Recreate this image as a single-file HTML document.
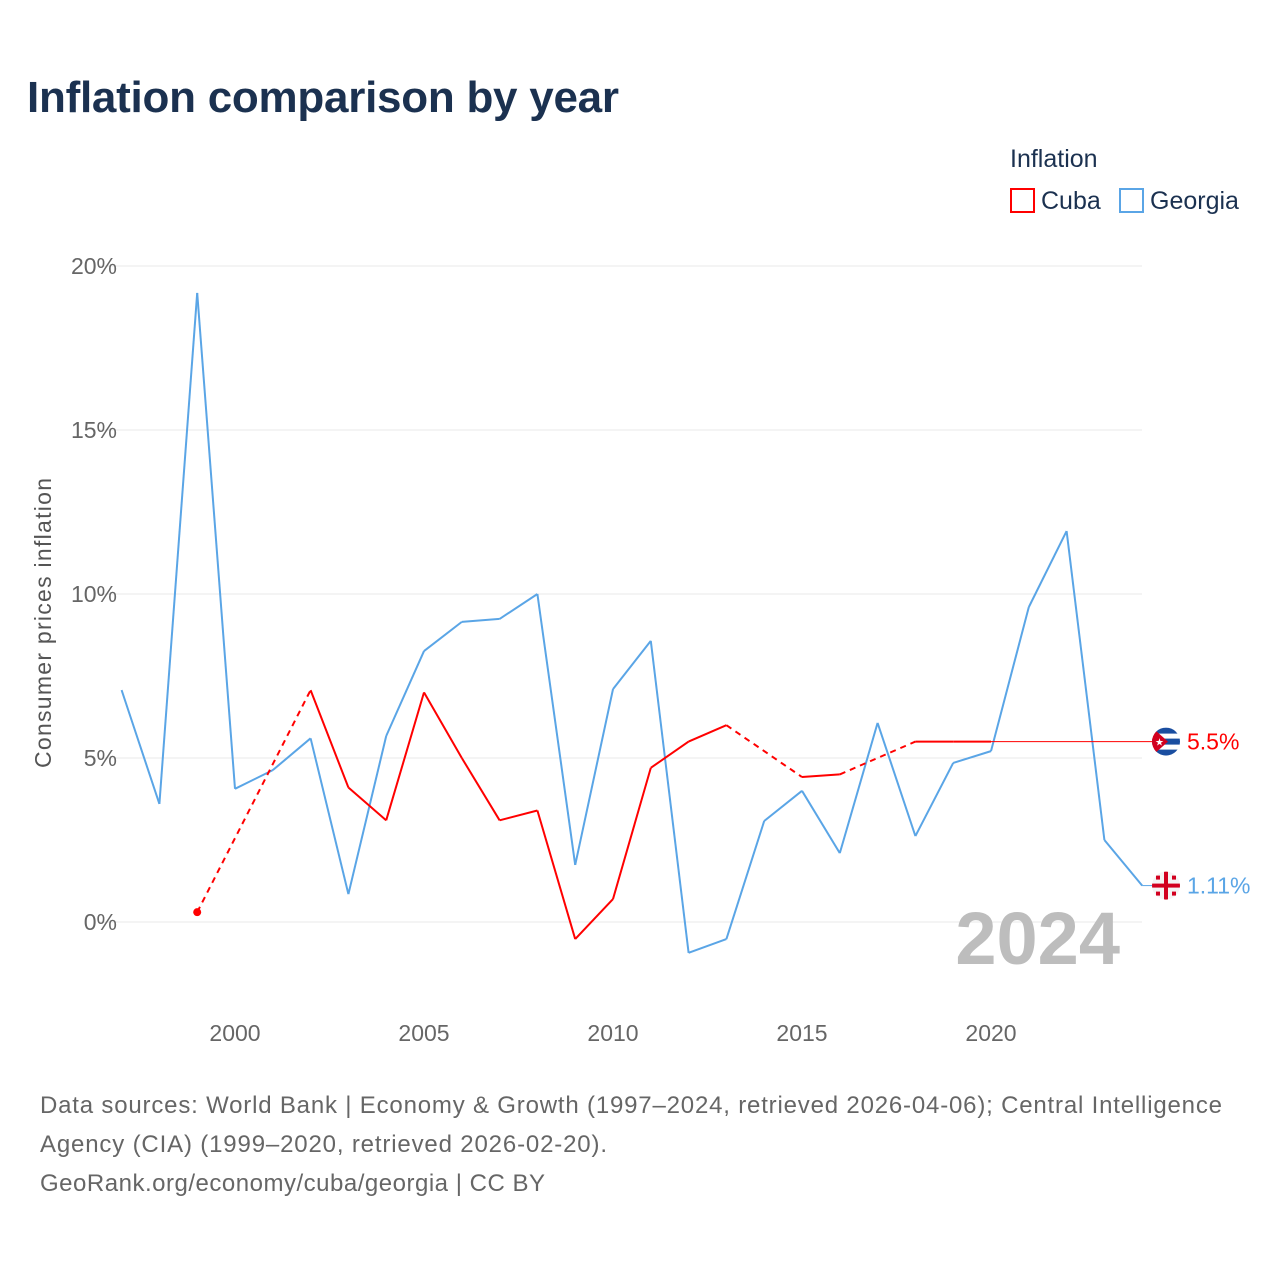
<!DOCTYPE html>
<html><head><meta charset="utf-8">
<style>
body{margin:0;background:#fff;}
svg text{font-family:"Liberation Sans",sans-serif;}
</style></head>
<body>
<svg id="chart" width="1280" height="1280" viewBox="0 0 1280 1280">
<defs>
<clipPath id="cc"><circle cx="1166" cy="742" r="14"/></clipPath>
<clipPath id="gc"><circle cx="1166" cy="886" r="14"/></clipPath>
</defs>
<text x="27" y="112" font-size="44" font-weight="bold" fill="#1b3150" textLength="592">Inflation comparison by year</text>
<text x="1010" y="167" font-size="25" fill="#1b3150">Inflation</text>
<g><rect x="1011" y="189" width="23" height="23" fill="none" stroke="#ff0000" stroke-width="2"/><text x="1041" y="209" font-size="25" fill="#1b3150">Cuba</text></g>
<g><rect x="1120" y="189" width="23" height="23" fill="none" stroke="#5aa5e6" stroke-width="2"/><text x="1150" y="209" font-size="25" fill="#1b3150">Georgia</text></g>
<text transform="translate(51,623) rotate(-90)" text-anchor="middle" font-size="23" fill="#555" textLength="290">Consumer prices inflation</text>
<g id="grid"></g><g id="yt"></g><g id="xt"></g>
<text x="1120" y="964" text-anchor="end" font-size="74" font-weight="bold" fill="#bdbdbd">2024</text>
<g id="series"></g>
<text x="40" y="1113" font-size="24" fill="#666" textLength="1182">Data sources: World Bank | Economy &amp; Growth (1997–2024, retrieved 2026-04-06); Central Intelligence</text>
<text x="40" y="1152" font-size="24" fill="#666" textLength="567">Agency (CIA) (1999–2020, retrieved 2026-02-20).</text>
<text x="40" y="1191" font-size="24" fill="#666" textLength="505">GeoRank.org/economy/cuba/georgia | CC BY</text>
</svg>
<script>
const years=[1997,1998,1999,2000,2001,2002,2003,2004,2005,2006,2007,2008,2009,2010,2011,2012,2013,2014,2015,2016,2017,2018,2019,2020,2021,2022,2023,2024];
const georgia=[7.07,3.6,19.18,4.06,4.63,5.6,0.85,5.67,8.26,9.15,9.24,10.0,1.74,7.1,8.57,-0.94,-0.52,3.08,4.0,2.1,6.07,2.62,4.85,5.21,9.6,11.92,2.5,1.11];
const cuba=[null,null,0.3,null,null,7.07,4.1,3.1,7.0,5.0,3.1,3.4,-0.52,0.7,4.7,5.5,6.0,null,4.42,4.5,null,5.5,5.5,5.5,null,null,null,null];
const yTicks=[0,5,10,15,20];
const xTicks=[2000,2005,2010,2015,2020];
const X=y=>235+(y-2000)*37.8;
const Y=v=>922-v*32.8;
const NS="http://www.w3.org/2000/svg";
function mk(tag,attrs,parent){const e=document.createElementNS(NS,tag);for(const k in attrs)e.setAttribute(k,attrs[k]);parent.appendChild(e);return e;}
const grid=document.getElementById('grid'),yt=document.getElementById('yt'),xt=document.getElementById('xt'),ser=document.getElementById('series');
yTicks.forEach(t=>{
 const l=mk('line',{x1:100,x2:1142,y1:Y(t),y2:Y(t),stroke:'#e8e8e8','stroke-width':1},grid);
 
 
 const tx=mk('text',{x:117,y:Y(t)+8,'text-anchor':'end','font-size':23,fill:'#666'},yt);tx.textContent=t+'%';
 
 
});
xTicks.forEach(t=>{
 const tx=mk('text',{x:X(t),y:1041,'text-anchor':'middle','font-size':23,fill:'#666'},xt);tx.textContent=t;
 
 
});
function draw(vals,color,name,startDot){
 let prev=null,gap=false;
 const g=mk('g',{},ser);
 
 
 vals.forEach((v,i)=>{
  if(v===null){if(prev)gap=true;return;}
  if(prev){
   const a={x1:X(prev[0]),y1:Y(prev[1]),x2:X(years[i]),y2:Y(v),stroke:color,'stroke-width':2};
   if(gap)a['stroke-dasharray']='6,5';
   mk('line',a,g);
  }else if(startDot){
   const c=mk('circle',{cx:X(years[i]),cy:Y(v),r:4,fill:color},g);
   
   
  }
  prev=[years[i],v];gap=false;
 });
 return prev;
}
const gl=draw(georgia,'#5aa5e6','georgia',false);
const cl=draw(cuba,'#ff0000','cuba',true);
const ext=mk('line',{x1:X(cl[0]),y1:Y(cl[1]),x2:1152,y2:Y(cl[1]),stroke:'#ff0000','stroke-width':1},ser);


const ge=mk('line',{x1:X(2024),y1:Y(gl[1]),x2:1152,y2:Y(gl[1]),stroke:'#5aa5e6','stroke-width':1},ser);


const cy=Y(cl[1]);
document.querySelector('#cc circle').setAttribute('cy',cy);
const cf=mk('g',{'clip-path':'url(#cc)'},ser);


mk('rect',{x:1150,y:cy-15,width:32,height:30,fill:'#fff'},cf);
[-14,-3,8].forEach(d=>mk('rect',{x:1150,y:cy+d,width:32,height:6,fill:'#1a4ea0'},cf));
mk('path',{d:`M1150 ${cy-16} L1168 ${cy} L1150 ${cy+16} Z`,fill:'#d2001f'},cf);
mk('text',{x:1155,y:cy+4,'font-size':10,fill:'#fff'},cf).textContent='★';
const lc=mk('text',{x:1187,y:cy+8,'font-size':23,fill:'#ff0000'},ser);lc.textContent=cl[1]+'%';


const gy=Y(gl[1]);
document.querySelector('#gc circle').setAttribute('cy',gy);
const gf=mk('g',{'clip-path':'url(#gc)'},ser);


mk('rect',{x:1150,y:gy-15,width:32,height:30,fill:'#f4f4f4'},gf);
mk('rect',{x:1150,y:gy-2,width:32,height:4,fill:'#d2001f'},gf);
mk('rect',{x:1164,y:gy-15,width:4,height:30,fill:'#d2001f'},gf);
[[-8,-8],[8,-8],[-8,8],[8,8]].forEach(p=>mk('rect',{x:1166+p[0]-2,y:gy+p[1]-2,width:4,height:4,fill:'#d2001f'},gf));
const lg=mk('text',{x:1187,y:gy+8,'font-size':23,fill:'#5aa5e6'},ser);lg.textContent=gl[1]+'%';


</script>
</body></html>
